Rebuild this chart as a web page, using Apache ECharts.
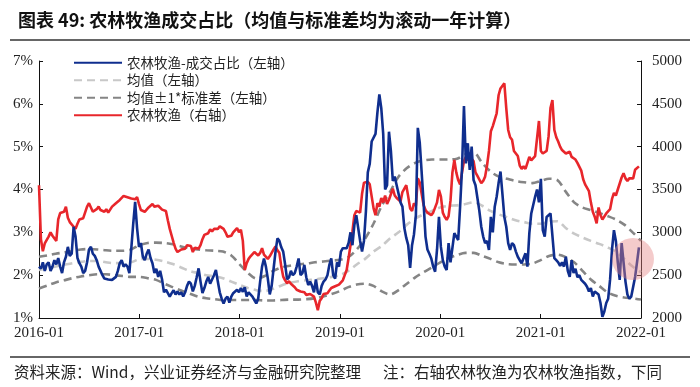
<!DOCTYPE html>
<html><head><meta charset="utf-8">
<script src="https://cdn.jsdelivr.net/npm/echarts@6/dist/echarts.min.js"></script>
<style>html,body{margin:0;padding:0;background:#fff}#c{width:700px;height:387px}</style>
</head><body><div id="c"></div>
<script>
// ---- Data (weekly, 2016-01 .. 2021-12) ----
const blueShare = [
// 2016
2.2,2.15,2.3,2.1,2.25,2.3,2.1,2.2,2.35,2.25,
2.4,2.2,2.05,2.3,2.43,2.66,2.45,2.5,3.13,2.9,
2.4,2.28,2.2,2.05,2.1,2.3,2.6,2.66,2.5,2.45,
2.35,2.2,2.1,2.0,1.92,1.96,1.9,1.92,1.89,1.92,
1.96,2.1,2.28,2.35,2.2,2.25,2.2,2.05,2.05,3.2,
3.71,3.1,
// 2017
2.66,2.75,2.43,2.35,2.5,2.6,2.4,2.28,2.05,2.15,
1.96,2.1,1.9,1.6,1.66,1.58,1.5,1.58,1.65,1.55,
1.62,1.55,1.6,1.5,1.6,1.75,1.85,1.8,1.62,1.75,
1.95,2.16,1.85,1.58,1.7,1.85,1.96,1.8,1.9,2.0,
2.12,1.85,1.6,1.45,1.34,1.45,1.5,1.36,1.5,1.58,
1.6,1.66,
// 2018
1.6,1.7,1.61,1.72,1.5,1.6,1.62,1.5,1.42,1.34,
1.45,1.85,2.2,2.39,2.2,1.92,1.55,1.75,2.15,2.55,
2.86,2.8,2.65,2.55,2.25,1.9,1.95,2.1,2.0,2.05,
2.2,2.39,2.0,2.05,2.24,1.95,1.77,1.85,1.75,1.6,
1.9,1.6,1.55,1.75,1.85,1.9,2.0,2.24,2.39,2.0,
1.92,2.3,
// 2019
2.2,2.55,2.63,2.6,2.63,2.75,3.0,2.7,3.17,3.4,
3.1,2.8,2.55,2.8,3.48,4.4,4.6,5.12,5.1,5.3,
5.8,6.22,5.9,5.3,4.0,4.1,5.35,4.9,4.2,4.3,
4.1,4.1,3.7,3.6,3.1,2.87,2.7,2.17,2.7,2.95,
3.4,5.44,5.1,4.4,3.7,2.9,2.6,2.5,2.39,2.2,
2.08,2.6,
// 2020
3.36,2.66,2.35,2.2,2.12,2.75,2.3,2.3,2.98,2.95,
2.82,3.6,4.5,5.95,4.61,5.08,4.46,5.0,4.22,4.1,
3.8,3.5,3.13,2.9,2.75,2.8,2.59,3.36,3.0,3.6,
3.83,4.15,4.42,3.9,3.36,3.13,2.75,2.59,2.75,2.7,
2.55,2.43,2.35,2.28,2.25,2.51,2.2,2.98,3.44,3.4,
3.83,4.0,
// 2021
3.7,4.25,3.05,2.9,3.36,3.36,3.44,3.45,2.4,2.35,
2.3,2.22,2.3,2.2,2.43,2.1,1.96,2.35,2.05,2.15,
1.95,2.0,1.89,1.9,1.8,1.73,1.62,1.7,1.5,1.62,
1.6,1.55,1.35,1.03,1.15,1.35,1.45,1.9,2.6,3.05,
2.8,2.3,1.89,2.75,2.3,1.85,1.55,1.45,1.5,1.5,
1.96,2.3,2.65
];

const redIndex = [
// 2016
3550,2920,2780,2870,2850,2950,3000,2960,2940,2900,
3150,3225,3240,3240,3300,3170,3120,3120,3065,3040,
3100,3150,3150,3165,3180,3300,3340,3320,3240,3225,
3270,3300,3260,3260,3240,3270,3230,3250,3300,3320,
3340,3355,3378,3400,3425,3425,3410,3395,3395,3395,
3385,3410,
// 2017
3330,3260,3250,3240,3255,3290,3270,3330,3300,3290,
3310,3300,3265,3280,3250,3140,3040,2960,2880,2810,
2770,2780,2800,2820,2810,2850,2870,2840,2770,2820,
2840,2810,2850,2920,2970,2960,2990,3035,3010,3040,
3060,3040,3070,3070,3040,3000,2950,2950,2960,3000,
3020,3050,
// 2018
3000,3030,2900,2560,2640,2690,2720,2740,2770,2760,
2730,2760,2815,2740,2720,2690,2720,2740,2800,2835,
2790,2760,2600,2483,2440,2405,2430,2400,2420,2360,
2330,2350,2310,2290,2300,2270,2250,2280,2260,2250,
2180,2090,2200,2230,2280,2300,2290,2320,2350,2360,
2370,2380,
// 2019
2390,2400,2440,2500,2560,2700,2850,3010,3200,3250,
3260,3230,3450,3580,3570,3590,3560,3550,3280,3200,
3340,3300,3400,3350,3430,3330,3380,3400,3510,3430,
3400,3420,3360,3470,3510,3550,3420,3280,3250,3340,
3310,3630,3580,3450,3320,3260,3230,3220,3200,3230,
3220,3350,
// 2020
3495,3420,3230,3180,3145,3190,3370,3700,3845,3700,
3610,3560,3700,3830,3883,3840,3880,3860,3830,3700,
3660,3640,3573,3600,3650,3780,3950,4180,4240,4240,
4390,4600,4680,4700,4740,4450,4195,4110,4080,3950,
3960,3890,3780,3740,3770,3740,3750,3880,3840,3820,
3890,3910,
// 2021
4300,3950,3920,3920,3950,4120,4450,4545,4195,4110,
4060,4000,3960,3980,3920,3940,3940,3880,3860,3850,
3810,3790,3720,3620,3560,3570,3480,3350,3240,3183,
3105,3290,3200,3150,3170,3220,3210,3270,3390,3460,
3430,3420,3570,3640,3690,3630,3600,3630,3650,3630,
3730,3740,3770
];

// ---- Rolling one-year statistics (monthly, 2016-01 .. 2022-01) ----
const meanVals = [
2.12,2.16,2.2,2.24,2.28,2.31,2.33,2.33,2.3,2.28,2.28,2.3,
2.37,2.38,2.36,2.32,2.26,2.18,2.1,2.05,2.0,1.97,1.93,1.85,
1.77,1.7,1.65,1.63,1.68,1.76,1.82,1.86,1.88,1.9,1.93,1.96,
2.0,2.1,2.25,2.38,2.55,2.68,2.86,3.0,3.18,3.32,3.42,3.5,
3.58,3.62,3.63,3.66,3.7,3.62,3.5,3.42,3.35,3.28,3.24,3.2,
3.2,3.25,3.26,3.1,2.97,2.88,2.8,2.73,2.65,2.55,2.38,2.2,
2.07
];
const upperVals = [
2.43,2.46,2.5,2.53,2.56,2.6,2.61,2.6,2.58,2.57,2.57,2.6,
2.7,2.75,2.76,2.75,2.72,2.67,2.63,2.6,2.58,2.57,2.55,2.46,
2.25,2.05,1.92,1.98,2.1,2.18,2.22,2.25,2.27,2.3,2.32,2.34,
2.36,2.42,2.6,2.85,3.2,3.62,3.95,4.3,4.5,4.62,4.68,4.7,
4.7,4.7,4.72,4.82,4.86,4.62,4.42,4.3,4.25,4.2,4.17,4.15,
4.2,4.25,4.22,3.95,3.7,3.58,3.52,3.45,3.38,3.3,3.18,3.0,
2.8
];
const lowerVals = [
1.69,1.76,1.83,1.88,1.93,1.97,2.0,2.02,2.02,2.0,1.98,1.96,
1.96,1.93,1.89,1.8,1.72,1.64,1.57,1.5,1.46,1.44,1.42,1.42,
1.42,1.42,1.42,1.41,1.41,1.42,1.43,1.43,1.44,1.46,1.5,1.56,
1.63,1.72,1.78,1.8,1.75,1.62,1.55,1.65,1.8,1.95,2.07,2.18,
2.3,2.4,2.47,2.52,2.52,2.45,2.38,2.3,2.26,2.25,2.25,2.27,
2.35,2.45,2.48,2.42,2.3,2.1,1.9,1.75,1.6,1.52,1.48,1.46,
1.43
];

const seriesNames = ['农林牧渔-成交占比（左轴）','均值（左轴）','均值±1*标准差（左轴）','农林牧渔（右轴）'];
const titleText = '图表 49: 农林牧渔成交占比（均值与标准差均为滚动一年计算）';
const sourceText = '资料来源：Wind，兴业证券经济与金融研究院整理';
const noteText = '注：右轴农林牧渔为农林牧渔指数，下同';

const startYear = 2016, endYear = 2022;
const weekStep = 7 / 365.25;
const weekly = arr => arr.map((v, i) => [startYear + i * weekStep, v]);
const monthly = arr => arr.map((v, j) => [startYear + j / 12, v]);

const CJK = '"Noto Sans CJK SC", sans-serif';
const SERIF = '"Liberation Serif", "DejaVu Serif", serif';

const chart = echarts.init(document.getElementById('c'), null, {renderer: 'canvas'});
const dashStyle = (color) => ({color: color, width: 2.6, type: [8, 5]});

chart.setOption({
  animation: false,
  backgroundColor: '#fff',
  title: {
    text: titleText, left: 13, top: 6,
    textStyle: {fontFamily: CJK, fontSize: 18, fontWeight: 'bold', color: '#111'}
  },
  grid: {left: 39, right: 59, top: 61, bottom: 69, containLabel: false, outerBoundsMode: 'none'},
  legend: {
    data: seriesNames, orient: 'vertical', left: 68, top: 51,
    itemWidth: 48, itemHeight: 14, itemGap: 4,
    itemStyle: {opacity: 0},
    textStyle: {fontFamily: CJK, fontSize: 13.5, color: '#222'}
  },
  xAxis: {
    type: 'value', min: startYear, max: endYear, interval: 1,
    axisLine: {show: true, lineStyle: {color: '#111', width: 1}},
    axisTick: {show: true, inside: true, length: 4, lineStyle: {color: '#111'}},
    axisLabel: {fontFamily: SERIF, fontSize: 15, color: '#222', margin: 8,
      formatter: v => Math.round(v) + '-01'},
    splitLine: {show: false}
  },
  yAxis: [{
    type: 'value', min: 1, max: 7, interval: 1, position: 'left',
    axisLine: {show: true, lineStyle: {color: '#111', width: 1}},
    axisTick: {show: true, inside: true, length: 4, lineStyle: {color: '#111'}},
    axisLabel: {fontFamily: SERIF, fontSize: 15, color: '#222', margin: 6, formatter: v => v + '%'},
    splitLine: {show: false}
  }, {
    type: 'value', min: 2000, max: 5000, interval: 500, position: 'right',
    axisLine: {show: true, lineStyle: {color: '#111', width: 1}},
    axisTick: {show: true, inside: true, length: 4, lineStyle: {color: '#111'}},
    axisLabel: {fontFamily: SERIF, fontSize: 15, color: '#222', margin: 11, formatter: v => String(v)},
    splitLine: {show: false}
  }],
  series: [
    {name: seriesNames[2], type: 'line', data: monthly(upperVals), symbol: 'none', smooth: 0.3,
     lineStyle: dashStyle('#858585'), itemStyle: {color: '#858585'}, z: 2},
    {name: seriesNames[2], type: 'line', data: monthly(lowerVals), symbol: 'none', smooth: 0.3,
     lineStyle: dashStyle('#858585'), itemStyle: {color: '#858585'}, z: 2},
    {name: seriesNames[1], type: 'line', data: monthly(meanVals), symbol: 'none', smooth: 0.3,
     lineStyle: dashStyle('#c8c8c8'), itemStyle: {color: '#c8c8c8'}, z: 2},
    {name: seriesNames[3], type: 'line', yAxisIndex: 1, data: weekly(redIndex), symbol: 'none',
     lineStyle: {color: '#e8262b', width: 2.6}, itemStyle: {color: '#e8262b'}, z: 3},
    {name: seriesNames[0], type: 'line', data: weekly(blueShare), symbol: 'none',
     lineStyle: {color: '#0f2e8e', width: 2.6}, itemStyle: {color: '#0f2e8e'}, z: 4}
  ],
  graphic: [
    {type: 'line', shape: {x1: 10, y1: 40, x2: 690, y2: 40}, style: {stroke: '#333', lineWidth: 1.5}},
    {type: 'line', shape: {x1: 10, y1: 357, x2: 690, y2: 357}, style: {stroke: '#333', lineWidth: 1.5}},
    {type: 'text', left: 14, top: 364, style: {text: sourceText, font: '15.5px "Noto Sans CJK SC", sans-serif', fill: '#222'}},
    {type: 'text', left: 383, top: 364, style: {text: noteText, font: '15.5px "Noto Sans CJK SC", sans-serif', fill: '#222'}},
    {type: 'circle', shape: {cx: 633, cy: 259, r: 21}, style: {fill: 'rgba(228,130,130,0.42)'}, z: 100}
  ]
});
</script>
</body></html>
